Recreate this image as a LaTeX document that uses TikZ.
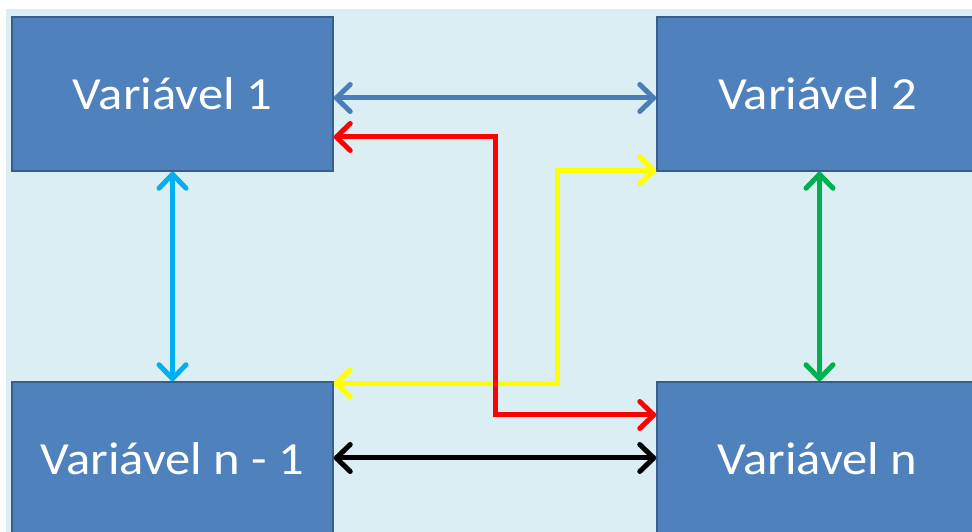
\documentclass[tikz,border=0pt]{standalone}
\usepackage{fontspec}
\setmainfont{Carlito}[FakeStretch=1.1]
\usetikzlibrary{arrows.meta}

\definecolor{panelbg}{HTML}{DBEEF4}
\definecolor{boxfill}{HTML}{4F81BD}
\definecolor{boxline}{HTML}{385D8A}
\definecolor{linkblue}{HTML}{4A7EBB}
\definecolor{linkcyan}{HTML}{00B0F0}
\definecolor{linkgreen}{HTML}{00B050}
\definecolor{linkred}{HTML}{FF0000}
\definecolor{linkyellow}{HTML}{FFFF00}

\begin{document}
\begin{tikzpicture}[
    x=1pt, y=1pt,
    varbox/.style={draw=boxline, line width=1.5pt, fill=boxfill, minimum width=321pt, minimum height=154pt, inner sep=0pt, text=white, font=\fontsize{46}{55}\selectfont},
    link/.style={line width=5pt, >={Straight Barb[length=14pt, width=27pt, round]}, <->},
]
    \useasboundingbox (0,0) rectangle (972,532);
    \fill[panelbg] (6,0) rectangle (972,523);

    \node[varbox] (v1) at (172.5,438) {Variável 1};
    \node[varbox] (v2) at (817.5,438) {Variável 2};
    \node[varbox] (vn1) at (172.5,73) {Variável n - 1};
    \node[varbox] (vn) at (817.5,73) {Variável n};

    \draw[link, linkblue] ([yshift=-4pt]v1.east) -- ([yshift=-4pt]v2.west);
    \draw[link, black] ([yshift=1pt]vn1.east) -- ([yshift=1pt]vn.west);
    \draw[link, linkcyan] (v1.south) -- (vn1.north);
    \draw[link, linkgreen] ([xshift=2pt]v2.south) -- ([xshift=2pt]vn.north);

    % crossing links
    \draw[link, linkyellow] ([yshift=-2pt]vn1.north east) -- ++(224,0) |- ([yshift=1.5pt]v2.south west);
    \draw[link, linkred] ([yshift=-43pt]v1.east) -- ++(162,0) |- ([yshift=44pt]vn.west);
\end{tikzpicture}
\end{document}
